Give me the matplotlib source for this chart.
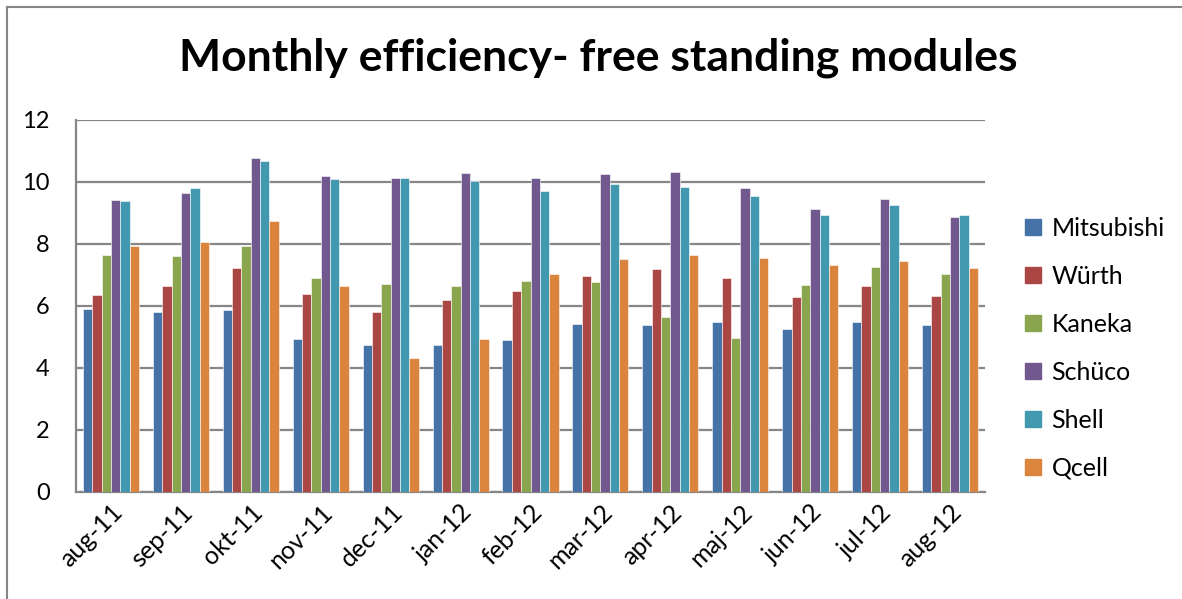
import numpy as np
import matplotlib
matplotlib.use("Agg")
import matplotlib.pyplot as plt
from matplotlib.lines import Line2D

months = ["aug-11", "sep-11", "okt-11", "nov-11", "dec-11", "jan-12", "feb-12",
          "mar-12", "apr-12", "maj-12", "jun-12", "jul-12", "aug-12"]

mitsubishi = [5.91, 5.80, 5.86, 4.92, 4.74, 4.74, 4.89, 5.41, 5.38, 5.47, 5.25, 5.47, 5.40]
wurth = [6.36, 6.66, 7.21, 6.38, 5.82, 6.19, 6.50, 6.96, 7.18, 6.89, 6.28, 6.63, 6.31]
kaneka = [7.64, 7.61, 7.92, 6.90, 6.71, 6.64, 6.80, 6.76, 5.66, 4.96, 6.67, 7.26, 7.04]
schuco = [9.42, 9.66, 10.78, 10.19, 10.13, 10.28, 10.13, 10.27, 10.31, 9.80, 9.13, 9.45, 8.88]
shell = [9.39, 9.80, 10.67, 10.11, 10.13, 10.02, 9.71, 9.95, 9.83, 9.55, 8.93, 9.27, 8.92]
qcell = [7.92, 8.05, 8.73, 6.66, 4.32, 4.93, 7.02, 7.52, 7.64, 7.56, 7.31, 7.45, 7.22]

series_names = ["Mitsubishi", "Würth", "Kaneka", "Schüco", "Shell", "Qcell"]
series_values = [mitsubishi, wurth, kaneka, schuco, shell, qcell]
colors = ["#4572A7", "#AA4643", "#89A54E", "#71588F", "#4198AF", "#DB843D"]

plt.rcParams["font.family"] = ["Lato", "DejaVu Sans"]

fig = plt.figure(figsize=(11.82, 5.99), dpi=100)
ax = fig.add_axes([76 / 1182, 1 - 492 / 599, (985 - 76) / 1182, (492 - 120) / 599])

x = np.arange(len(months))
bw = 0.1335
offsets = (np.arange(6) - 2.5) * bw
for name, vals, c, off in zip(series_names, series_values, colors, offsets):
    ax.bar(x + off, vals, width=bw, color=c, label=name,
           edgecolor="white", linewidth=0.4, zorder=3)

ax.set_xlim(-0.5, len(months) - 0.5)
ax.set_ylim(0, 12)
ax.set_yticks(range(0, 13, 2))
ax.yaxis.grid(True, color="#868686", linewidth=1.6, zorder=0)
ax.set_axisbelow(True)
for s in ["top", "right"]:
    ax.spines[s].set_visible(False)
for s in ["left", "bottom"]:
    ax.spines[s].set_color("#868686")
    ax.spines[s].set_linewidth(1.6)
ax.tick_params(axis="y", length=0, labelsize=17, pad=19)
ax.tick_params(axis="x", length=0, labelsize=18, pad=6)
ax.set_yticklabels([str(v) for v in range(0, 13, 2)], ha="right")
ax.set_xticks(x)
ax.set_xticklabels(months, rotation=45, ha="right", rotation_mode="anchor")

fig.text(598 / 1182, 1 - 58 / 599, "Monthly efficiency- free standing modules",
         ha="center", va="center", fontsize=32, fontweight="bold")

handles = [Line2D([0], [0], marker="s", linestyle="none", markersize=11,
                  markerfacecolor=c, markeredgecolor=c) for c in colors]
fig.legend(handles, series_names, loc="center left",
           bbox_to_anchor=(999 / 1182, 1 - 348 / 599), frameon=False,
           fontsize=18, labelspacing=1.0, handletextpad=0.3, handlelength=0.9)

# chart border (left and top)
fig.add_artist(Line2D([7 / 1182, 7 / 1182], [0, 1 - 7 / 599], transform=fig.transFigure,
                      color="#868686", linewidth=1.5))
fig.add_artist(Line2D([7 / 1182, 1], [1 - 7 / 599, 1 - 7 / 599], transform=fig.transFigure,
                      color="#868686", linewidth=1.5))

fig.savefig("out.png", dpi=100)
